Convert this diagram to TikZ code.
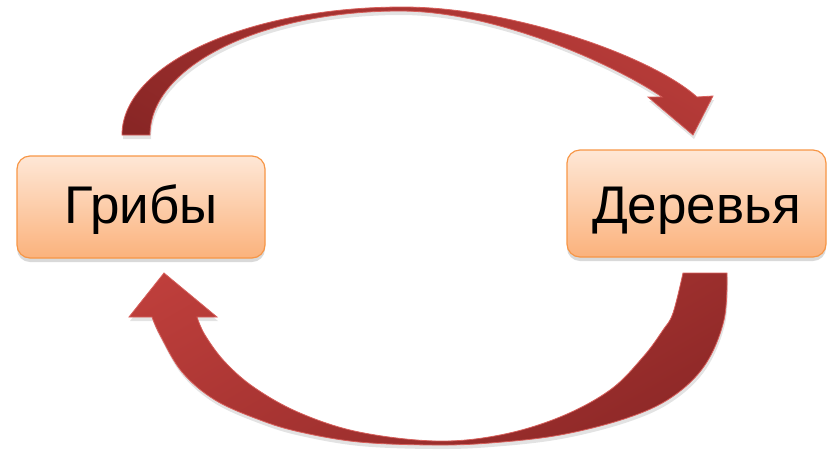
\documentclass[tikz,border=0pt]{standalone}
\usepackage{fontspec}
\setmainfont{Liberation Sans}
\usetikzlibrary{shadows}
\definecolor{boxtop}{HTML}{FEE7D6}
\definecolor{boxbot}{HTML}{FBB27C}
\definecolor{boxline}{HTML}{F79646}
\definecolor{arrlight}{HTML}{CE4642}
\definecolor{arrdark}{HTML}{7A1F1F}
\definecolor{arredge}{HTML}{D65F5B}
\pgfdeclareverticalshading{arrowshade}{100bp}{color(0bp)=(arrdark); color(100bp)=(arrlight)}
\begin{document}
\begin{tikzpicture}[x=1pt,y=-1pt,
  box/.style={draw=boxline, line width=1.2pt, rounded corners=13pt,
    top color=boxtop, bottom color=boxbot, inner sep=0pt,
    font=\fontsize{53}{64}\selectfont,
    drop shadow={opacity=0.3, shadow xshift=0pt, shadow yshift=-4pt}},
  curvedarrow/.style={draw=arredge, line width=0.8pt, line join=miter,
    shade, shading=arrowshade,
    drop shadow={opacity=0.22, shadow xshift=1pt, shadow yshift=-4pt}}
]
\useasboundingbox (0,0) rectangle (835,451);

% boxes
\node[box, minimum width=248pt, minimum height=102pt,
      text height=36pt, text depth=4pt] (gribi) at (141,207) {Грибы};
\node[box, minimum width=259pt, minimum height=107pt,
      text height=39pt, text depth=0pt] (derevya) at (696.5,203.5) {Деревья};

% top arrow: Грибы -> Деревья
\path[curvedarrow, shading angle=-30]
  (122,135) .. controls (122,64) and (248,7) .. (403,7)
  .. controls (510,7) and (650,55) .. (697,97)
  -- (713,96) -- (693,135) -- (648,97) -- (662,97)
  .. controls (620,68) and (500,11) .. (400,11)
  .. controls (262,11) and (150,66) .. (150,135) -- cycle;

% bottom arrow: Деревья -> Грибы
\path[curvedarrow, shading angle=30]
  plot[smooth, tension=0.6] coordinates {(727,273) (724,320) (705,365) (672,397)
     (627,418) (560,435) (490,443) (433,445) (359,442) (300,432) (260,420)
     (215,400) (182,372) (160,335) (152,317)}
  -- (129,317) -- (164,273) -- (217,317) -- (197,317)
  -- plot[smooth, tension=0.6] coordinates {(197,317) (205,335) (225,362)
     (255,388) (300,413) (359,432) (436,441) (500,435) (560,417) (610,390)
     (643,357) (663,330) (673,313) (683,273)}
  -- cycle;
\end{tikzpicture}
\end{document}
